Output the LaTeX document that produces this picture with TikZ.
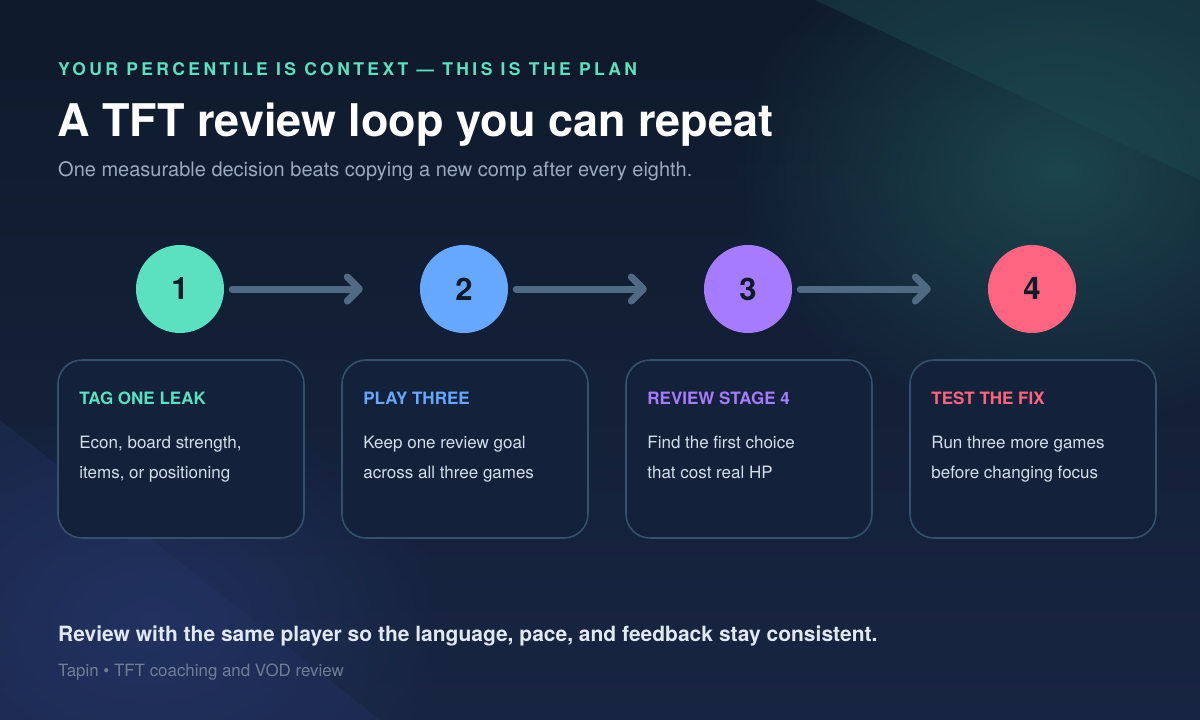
\documentclass[tikz,border=0pt]{standalone}
\usepackage{fontspec}
\setmainfont{TeX Gyre Heros}
\newfontfamily\eyebrowfont[LetterSpace=19.5]{TeX Gyre Heros}
\usepackage{xcolor}
\usetikzlibrary{positioning,arrows.meta,fadings,calc}
\definecolor{bgtop}{HTML}{0E1A2B}
\definecolor{bgbottom}{HTML}{182542}
\definecolor{glowteal}{HTML}{1D4A50}
\definecolor{glowblue}{HTML}{243466}
\definecolor{stepmint}{HTML}{5CE1C0}
\definecolor{stepblue}{HTML}{66A8FF}
\definecolor{steppurple}{HTML}{A67BFF}
\definecolor{steppink}{HTML}{FF6480}
\definecolor{inkdark}{HTML}{0F1A2A}
\definecolor{arrowslate}{HTML}{506A84}
\definecolor{cardfill}{HTML}{13223A}
\definecolor{cardedge}{HTML}{34506A}
\definecolor{bodytext}{HTML}{D3DEEC}
\definecolor{subtext}{HTML}{9AA9BC}
\definecolor{faintext}{HTML}{6E7F95}
\tikzfading[name=glowfade, inner color=transparent!0, outer color=transparent!100]

\begin{document}
\begin{tikzpicture}[x=1pt, y=-1pt,
    stepdot/.style={circle, minimum size=88pt, inner sep=0pt, text=inkdark,
        font=\fontsize{31}{34}\selectfont\bfseries},
    flow/.style={line width=7pt, draw=arrowslate, line cap=round,
        -{Straight Barb[length=12pt, width=24pt, line cap=round, line join=round]},
        shorten <=8pt, shorten >=57pt},
    card/.style={draw=cardedge, line width=1.6pt, fill=cardfill, rounded corners=24pt,
        minimum width=246pt, minimum height=178pt, inner sep=0pt},
    cardtitle/.style={anchor=base west, inner sep=0pt, font=\fontsize{17}{20}\selectfont\bfseries},
    cardbody/.style={anchor=base west, inner sep=0pt, text=bodytext, font=\fontsize{17}{20}\selectfont}]

        \useasboundingbox (0,0) rectangle (1200,720);
        % Background
        \begin{scope}
            \clip (0,0) rectangle (1200,720);
            \shade[top color=bgtop, bottom color=bgbottom] (0,0) rectangle (1200,720);
            \fill[glowteal, path fading=glowfade, opacity=0.9] (1060,170) ellipse (330pt and 260pt);
            \fill[glowteal, opacity=0.45] (815,0) -- (1200,0) -- (1200,180) -- cycle;
            \fill[glowblue, path fading=glowfade, opacity=0.8] (150,620) ellipse (300pt and 220pt);
            \fill[glowblue, opacity=0.35] (0,420) -- (380,720) -- (0,720) -- cycle;
        \end{scope}

        % Heading
        \node[anchor=base west, inner sep=0pt, text=stepmint, font=\fontsize{17.5}{20}\eyebrowfont\bfseries]
            (eyebrow) at (58,75) {YOUR PERCENTILE IS CONTEXT — THIS IS THE PLAN};
        \node[anchor=base west, inner sep=0pt, text=white, font=\fontsize{45}{50}\selectfont\bfseries]
            (title) at (57,136) {A TFT review loop you can repeat};
        \node[anchor=base west, inner sep=0pt, text=subtext, font=\fontsize{20}{24}\selectfont]
            (subtitle) at (58,176) {One measurable decision beats copying a new comp after every eighth.};

        % Steps
        \node[stepdot, fill=stepmint] (c1) at (180,289) {1};
        \node[stepdot, fill=stepblue] (c2) at (464,289) {2};
        \node[stepdot, fill=steppurple] (c3) at (748,289) {3};
        \node[stepdot, fill=steppink] (c4) at (1032,289) {4};

        % Arrows between steps
        \draw[flow] (c1) -- (c2);
        \draw[flow] (c2) -- (c3);
        \draw[flow] (c3) -- (c4);

        % Card 1
        \node[card] (k1) at (181,449) {};
        \node[cardtitle, text=stepmint] (k1t) at ($(k1.north west)+(22,45)$) {TAG ONE LEAK};
        \node[cardbody] (k1a) at ($(k1.north west)+(22,89)$) {Econ, board strength,};
        \node[cardbody] (k1b) at ($(k1.north west)+(22,119)$) {items, or positioning};

        % Card 2
        \node[card] (k2) at (465,449) {};
        \node[cardtitle, text=stepblue] (k2t) at ($(k2.north west)+(22,45)$) {PLAY THREE};
        \node[cardbody] (k2a) at ($(k2.north west)+(22,89)$) {Keep one review goal};
        \node[cardbody] (k2b) at ($(k2.north west)+(22,119)$) {across all three games};

        % Card 3
        \node[card] (k3) at (749,449) {};
        \node[cardtitle, text=steppurple] (k3t) at ($(k3.north west)+(22,45)$) {REVIEW STAGE 4};
        \node[cardbody] (k3a) at ($(k3.north west)+(22,89)$) {Find the first choice};
        \node[cardbody] (k3b) at ($(k3.north west)+(22,119)$) {that cost real HP};

        % Card 4
        \node[card] (k4) at (1033,449) {};
        \node[cardtitle, text=steppink] (k4t) at ($(k4.north west)+(22,45)$) {TEST THE FIX};
        \node[cardbody] (k4a) at ($(k4.north west)+(22,89)$) {Run three more games};
        \node[cardbody] (k4b) at ($(k4.north west)+(22,119)$) {before changing focus};

        % Footer
        \node[anchor=base west, inner sep=0pt, text=bodytext!70!white, font=\fontsize{21}{24}\selectfont\bfseries]
            (note) at (58,641) {Review with the same player so the language, pace, and feedback stay consistent.};
        \node[anchor=base west, inner sep=0pt, text=faintext, font=\fontsize{16.9}{20}\selectfont]
            (credit) at (58,676) {Tapin • TFT coaching and VOD review};
\end{tikzpicture}
\end{document}
